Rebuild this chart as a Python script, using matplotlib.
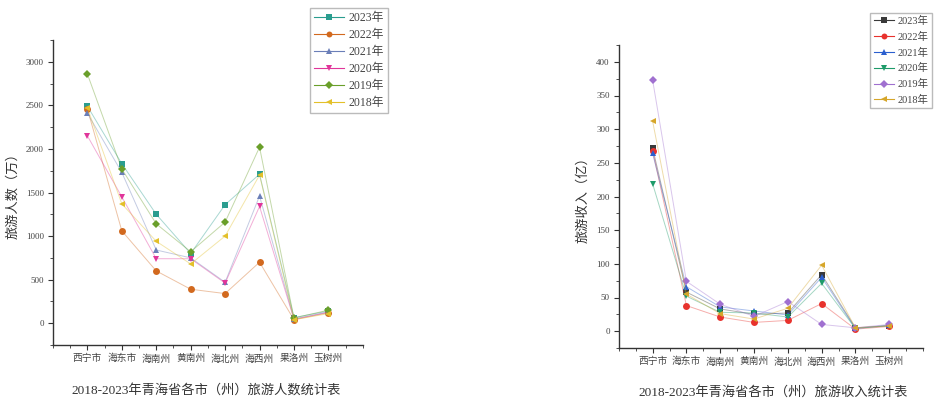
import matplotlib
matplotlib.use("Agg")
import matplotlib.pyplot as plt
from matplotlib.ticker import MultipleLocator, FixedLocator
from matplotlib.lines import Line2D

plt.rcParams['font.family'] = ['Liberation Serif', 'Noto Sans CJK SC', 'DejaVu Sans']

cities = ['西宁市', '海东市', '海南州', '黄南州', '海北州', '海西州', '果洛州', '玉树州']
years = ['2023年', '2022年', '2021年', '2020年', '2019年', '2018年']

# 旅游人数（万）
visitors_2023 = [2490, 1830, 1250, 800, 1360, 1710, 65, 140]
visitors_2022 = [2460, 1060, 600, 390, 340, 700, 40, 120]
visitors_2021 = [2410, 1730, 840, 750, 470, 1460, 50, 130]
visitors_2020 = [2150, 1450, 740, 740, 460, 1340, 45, 125]
visitors_2019 = [2860, 1770, 1140, 820, 1160, 2020, 60, 150]
visitors_2018 = [2470, 1370, 940, 680, 1000, 1700, 40, 110]

# 旅游收入（亿）
income_2023 = [272, 58, 33, 25, 27, 84, 5, 8]
income_2022 = [268, 38, 21, 13, 16, 41, 3, 7]
income_2021 = [264, 66, 36, 30, 24, 80, 4, 9]
income_2020 = [219, 52, 28, 27, 21, 71, 4, 8]
income_2019 = [373, 74, 40, 22, 44, 10, 5, 10]
income_2018 = [312, 55, 26, 18, 34, 98, 5, 8]

visitors = [visitors_2023, visitors_2022, visitors_2021, visitors_2020, visitors_2019, visitors_2018]
income = [income_2023, income_2022, income_2021, income_2020, income_2019, income_2018]

markers = ['s', 'o', '^', 'v', 'D', '<']
msizes = [4.5, 5, 5, 5, 4.5, 5]
colors_left = ['#2a9d8f', '#d2691e', '#6b7fb8', '#e0359a', '#6a9f2a', '#e3c02a']
colors_right = ['#3a3a3a', '#e8322d', '#2b5fcf', '#1e9b6a', '#a070d0', '#d6a62a']

fig = plt.figure(figsize=(9.39, 4.0), dpi=100)
ax1 = fig.add_axes([0.0564, 0.1375, 0.330, 0.7625])
ax2 = fig.add_axes([0.659, 0.13, 0.324, 0.7575])


def style_axis(ax, ylim, major, minor):
    ax.set_xlim(-1, 8)
    ax.set_ylim(*ylim)
    ax.xaxis.set_major_locator(FixedLocator(list(range(len(cities)))))
    ax.xaxis.set_minor_locator(FixedLocator([-1, -0.5, 0.5, 1.5, 2.5, 3.5, 4.5, 5.5, 6.5, 7.5, 8]))
    ax.set_xticklabels(cities, fontsize=7, color='#444444')
    ax.yaxis.set_major_locator(MultipleLocator(major))
    ax.yaxis.set_minor_locator(MultipleLocator(minor))
    for s in ['top', 'right']:
        ax.spines[s].set_visible(False)
    for s in ['left', 'bottom']:
        ax.spines[s].set_linewidth(1.0)
        ax.spines[s].set_color('#333333')
    ax.tick_params(axis='both', which='major', direction='out', length=3.5, width=0.8,
                   labelsize=6.5, colors='#333333', labelcolor='#444444', pad=3)
    ax.tick_params(axis='x', which='major', labelsize=7)
    ax.tick_params(axis='both', which='minor', direction='out', length=2, width=0.6, colors='#333333')


x = list(range(len(cities)))
for vals, m, ms, c in zip(visitors, markers, msizes, colors_left):
    ax1.plot(x, vals, color=c, lw=0.7, alpha=0.4)
    ax1.plot(x, vals, linestyle='none', marker=m, ms=ms, color=c, markeredgewidth=0)
style_axis(ax1, (-250, 3250), 500, 250)
ax1.set_ylabel('旅游人数（万）', fontsize=9.5, color='#333333', labelpad=5)

for vals, m, ms, c in zip(income, markers, msizes, colors_right):
    ax2.plot(x, vals, color=c, lw=0.7, alpha=0.4)
    ax2.plot(x, vals, linestyle='none', marker=m, ms=ms, color=c, markeredgewidth=0)
style_axis(ax2, (-25, 425), 50, 25)
ax2.set_ylabel('旅游收入（亿）', fontsize=9.5, color='#333333', labelpad=5)

# legends
h_left = [Line2D([], [], color=c, marker=m, ms=ms * 0.85, lw=0.8, markeredgewidth=0)
          for c, m, ms in zip(colors_left, markers, msizes)]
h_right = [Line2D([], [], color=c, marker=m, ms=ms * 0.85, lw=0.8, markeredgewidth=0)
           for c, m, ms in zip(colors_right, markers, msizes)]
fig.legend(h_left, years, loc='upper left', bbox_to_anchor=(0.330, 0.98), fontsize=8.5,
           frameon=True, fancybox=False, edgecolor='#aaaaaa', handlelength=2.5,
           labelspacing=0.42, borderpad=0.35, handletextpad=0.4, borderaxespad=0.0,
           labelcolor='#444444')
fig.legend(h_right, years, loc='upper left', bbox_to_anchor=(0.927, 0.968), fontsize=7.5,
           frameon=True, fancybox=False, edgecolor='#aaaaaa', handlelength=2.0,
           labelspacing=0.55, borderpad=0.3, handletextpad=0.3, borderaxespad=0.0,
           labelcolor='#444444')

fig.text(0.22, 0.025, '2018-2023年青海省各市（州）旅游人数统计表', ha='center', va='center',
         fontsize=9.5, color='#333333')
fig.text(0.823, 0.02, '2018-2023年青海省各市（州）旅游收入统计表', ha='center', va='center',
         fontsize=9.5, color='#333333')

fig.savefig('out.png', dpi=100)
